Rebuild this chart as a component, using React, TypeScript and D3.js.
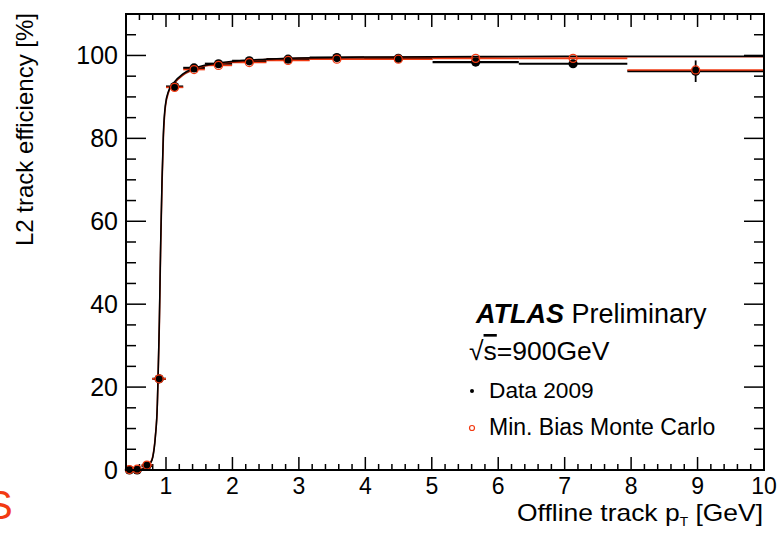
import React from "react";
import * as d3 from "d3";

// Bin edges (log-spaced, GeV)
const binEdges = [0.398, 0.501, 0.631, 0.794, 1.0, 1.259, 1.585, 1.995, 2.512, 3.162, 3.981, 5.012, 6.31, 7.943, 10.0];
// Data 2009 efficiency [%] and errors
const dataEff = [0.0, 0.0, 1.0, 22.0, 92.5, 97.0, 98.0, 98.7, 99.1, 99.5, 99.3, 98.4, 98.0, 96.2];
const dataErr = [0.2, 0.2, 0.3, 1.0, 0.6, 0.3, 0.3, 0.3, 0.3, 0.3, 0.4, 0.6, 0.9, 2.6];
// Min. Bias Monte Carlo efficiency [%]
const mcEff = [0.1, 0.2, 1.2, 22.0, 92.3, 96.6, 97.6, 98.3, 98.8, 99.1, 99.1, 99.3, 99.3, 96.5];

// Fit curves
const fitPt = [0.4, 0.6, 0.7, 0.76, 0.8, 0.84, 0.87, 0.88, 0.9, 0.92, 0.94, 0.96, 0.99, 1.04, 1.12, 1.25, 1.4, 1.6, 2.0, 2.5, 3.0, 4.0, 5.0, 7.0, 10.0];
const fitEffData = [0.0, 0.1, 0.5, 1.5, 3.0, 8.0, 16, 22, 36, 55, 70, 81, 88, 91.5, 93.5, 95.5, 96.8, 97.7, 98.6, 99.1, 99.4, 99.6, 99.7, 99.8, 99.8];
const fitEffMC = [0.0, 0.1, 0.6, 1.6, 3.2, 8.2, 16, 22, 35, 54, 69, 80, 87.5, 91.2, 93.2, 95.2, 96.5, 97.5, 98.4, 99.0, 99.3, 99.5, 99.6, 99.7, 99.7];

const xTickLabels = [1, 2, 3, 4, 5, 6, 7, 8, 9, 10];
const yTickLabels = [0, 20, 40, 60, 80, 100];

const RED = "#f23a12";
const FONT = "'Liberation Sans', Arial, Helvetica, sans-serif";

export default function App() {
  const W = 780, H = 538;
  const L = 126, R = 764, T = 14, B = 470;
  const x = d3.scaleLinear().domain([0.398, 10]).range([L, R]);
  const y = d3.scaleLinear().domain([0, 110]).range([B, T]);

  const bins = dataEff.map((v, i) => ({
    lo: binEdges[i],
    hi: binEdges[i + 1],
    c: (binEdges[i] + binEdges[i + 1]) / 2,
    d: v,
    e: dataErr[i],
    m: mcEff[i],
  }));

  const mkPath = (vals: number[]) =>
    d3
      .line<number>()
      .x((_, i) => x(fitPt[i]))
      .y((v) => y(v))
      .curve(d3.curveMonotoneX)(vals) || "";
  const dataPath = mkPath(fitEffData);
  const mcPath = mkPath(fitEffMC);

  const xMinor = d3.range(0.4, 10.001, 0.2).filter((v) => Math.abs(v - Math.round(v)) > 1e-6);
  const yMinor = d3.range(0, 110.001, 5).filter((v) => v % 20 !== 0);
  const yMajor = d3.range(0, 110.001, 20);

  return (
    <svg width={W} height={H} style={{ position: "absolute", left: 0, top: 0, background: "#fff" }} fontFamily={FONT}>
      <rect x={0} y={0} width={W} height={H} fill="#fff" />
      {/* red cut-off letter */}
      <text x={-14} y={519} fontSize={40} fill={RED}>S</text>

      {/* ticks */}
      <g stroke="#000" strokeWidth={1.5}>
        {xTickLabels.map((v) => (
          <g key={"xM" + v}>
            <line x1={x(v)} x2={x(v)} y1={B} y2={B - 13} />
            <line x1={x(v)} x2={x(v)} y1={T} y2={T + 13} />
          </g>
        ))}
        {xMinor.map((v, i) => (
          <g key={"xm" + i}>
            <line x1={x(v)} x2={x(v)} y1={B} y2={B - 6} />
            <line x1={x(v)} x2={x(v)} y1={T} y2={T + 6} />
          </g>
        ))}
        {yMajor.map((v) => (
          <g key={"yM" + v}>
            <line x1={L} x2={L + 20} y1={y(v)} y2={y(v)} />
            <line x1={R} x2={R - 20} y1={y(v)} y2={y(v)} />
          </g>
        ))}
        {yMinor.map((v) => (
          <g key={"ym" + v}>
            <line x1={L} x2={L + 10} y1={y(v)} y2={y(v)} />
            <line x1={R} x2={R - 10} y1={y(v)} y2={y(v)} />
          </g>
        ))}
      </g>

      {/* tick labels */}
      <g fontSize={23} fill="#000">
        {xTickLabels.map((v) => (
          <text key={"xl" + v} x={x(v)} y={494} textAnchor="middle">{v}</text>
        ))}
      </g>
      <g fontSize={25} fill="#000">
        {yTickLabels.map((v) => (
          <text key={"yl" + v} x={118} y={y(v) + 9} textAnchor="end">{v}</text>
        ))}
      </g>

      {/* axis titles */}
      <text transform="translate(763,521) scale(1.15,1)" x={0} y={0} fontSize={23} textAnchor="end" fill="#000">
        Offline track p<tspan fontSize={12} dy={5}>T</tspan><tspan dy={-5}> [GeV]</tspan>
      </text>
      <text transform="translate(33,13) rotate(-90)" fontSize={24} textAnchor="end" fill="#000">
        L2 track efficiency [%]
      </text>

      {/* data bars */}
      <g stroke="#000" strokeWidth={2.2}>
        {bins.map((b, i) => (
          <g key={"db" + i}>
            <line x1={x(b.lo)} x2={x(b.hi)} y1={y(b.d)} y2={y(b.d)} />
            <line x1={x(b.c)} x2={x(b.c)} y1={y(b.d - b.e)} y2={y(b.d + b.e)} strokeWidth={1.8} />
          </g>
        ))}
      </g>
      {/* MC bars */}
      <g stroke={RED} strokeWidth={1.6}>
        {bins.map((b, i) => (
          <line key={"mb" + i} x1={x(b.lo)} x2={x(b.hi)} y1={y(b.m)} y2={y(b.m)} />
        ))}
      </g>

      {/* fit curves */}
      <path d={mcPath} fill="none" stroke="#a01a00" strokeWidth={1.6} />
      <path d={dataPath} fill="none" stroke="#000" strokeWidth={1.5} />

      {/* data markers */}
      {bins.map((b, i) => (
        <circle key={"dc" + i} cx={x(b.c)} cy={y(b.d)} r={4.6} fill="#000" />
      ))}
      {/* MC markers */}
      {bins.map((b, i) => (
        <circle key={"mc" + i} cx={x(b.c)} cy={y(b.m)} r={4} fill="none" stroke={RED} strokeWidth={1.3} />
      ))}

      {/* frame */}
      <rect x={L} y={T} width={R - L} height={B - T} fill="none" stroke="#000" strokeWidth={2} />

      {/* legend */}
      <text x={476} y={323} fontSize={27} fill="#000">
        <tspan fontWeight="bold" fontStyle="italic">ATLAS</tspan> Preliminary
      </text>
      <text x={469} y={360} fontSize={26.5} fill="#000">
        √<tspan textDecoration="overline" style={{ textDecoration: "overline" }}>s</tspan>=900GeV
      </text>
      <circle cx={472} cy={391} r={2} fill="#000" />
      <text x={489} y={398} fontSize={22.7} fill="#000">Data 2009</text>
      <circle cx={472} cy={428} r={2.5} fill="none" stroke={RED} strokeWidth={1.2} />
      <text x={489} y={435} fontSize={23} fill="#000">Min. Bias Monte Carlo</text>
    </svg>
  );
}
